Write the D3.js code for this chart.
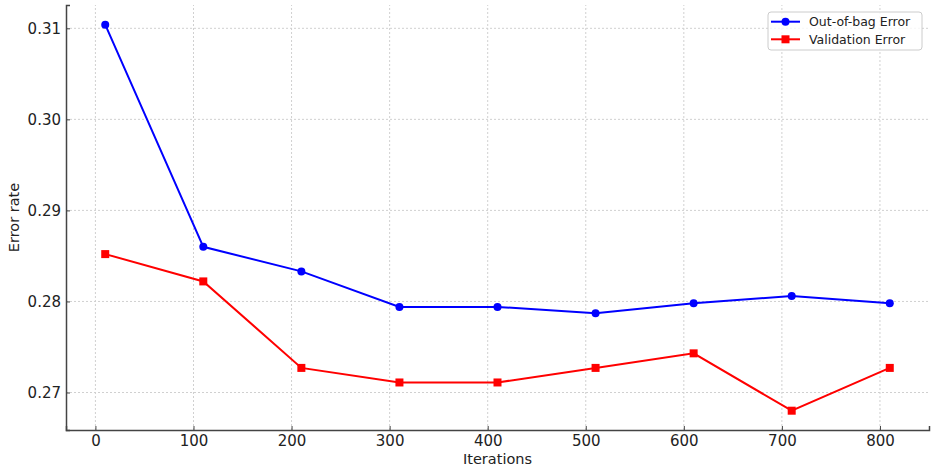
<!DOCTYPE html>
<html>
<head>
<meta charset="utf-8">
<script src="https://cdn.jsdelivr.net/npm/d3@7"></script>
<style>
  body { margin: 0; background: #fff; }
  svg { display: block; font-family: "DejaVu Sans", sans-serif; }
</style>
</head>
<body>
<svg id="chart" width="935" height="470"></svg>
<script>
// chart data
const iterations = [10, 110, 210, 310, 410, 510, 610, 710, 810];
const oobError = [0.3104, 0.2860, 0.2833, 0.2794, 0.2794, 0.2787, 0.2798, 0.2806, 0.2798];
const validationError = [0.2852, 0.2822, 0.2727, 0.2711, 0.2711, 0.2727, 0.2743, 0.2680, 0.2727];
const xTicks = [0, 100, 200, 300, 400, 500, 600, 700, 800];
const yTicks = [0.27, 0.28, 0.29, 0.30, 0.31];
const seriesNames = ['Out-of-bag Error', 'Validation Error'];

const svg = d3.select('#chart');
const margin = { left: 66, right: 6, top: 5, bottom: 40 };
const width = 935, height = 470;

const x = d3.scaleLinear().domain([-30, 850]).range([margin.left, width - margin.right]);
const y = d3.scaleLinear().domain([0.26588, 0.31256]).range([height - margin.bottom, margin.top]);

// grid
svg.append('g').selectAll('line').data(xTicks).enter().append('line')
    .attr('x1', d => x(d)).attr('x2', d => x(d))
    .attr('y1', y.range()[0]).attr('y2', y.range()[1])
    .attr('stroke', '#d0d0d0').attr('stroke-width', 1).attr('stroke-dasharray', '2,2');
svg.append('g').selectAll('line').data(yTicks).enter().append('line')
    .attr('y1', d => y(d)).attr('y2', d => y(d))
    .attr('x1', x.range()[0]).attr('x2', x.range()[1])
    .attr('stroke', '#d0d0d0').attr('stroke-width', 1).attr('stroke-dasharray', '2,2');

// axes with inward ticks
const xAxis = svg.append('g')
    .attr('transform', `translate(0,${height - margin.bottom})`)
    .call(d3.axisBottom(x).tickValues(xTicks).tickSize(-4).tickPadding(5).tickFormat(d3.format('d')));
const yAxis = svg.append('g')
    .attr('transform', `translate(${margin.left},0)`)
    .call(d3.axisLeft(y).tickValues(yTicks).tickSize(-4).tickPadding(5).tickFormat(d3.format('.2f')));

[xAxis, yAxis].forEach(ax => {
    ax.select('.domain').attr('stroke', '#444').attr('stroke-width', 1.5);
    ax.selectAll('.tick line').attr('stroke', '#444');
    ax.selectAll('.tick text').attr('fill', '#222').style('font-size', '15px')
        .style('font-family', '"DejaVu Sans", sans-serif');
});

svg.append('text')
    .attr('x', (x.range()[0] + x.range()[1]) / 2).attr('y', 464)
    .attr('text-anchor', 'middle').attr('fill', '#222').style('font-size', '14.5px')
    .text('Iterations');
svg.append('text')
    .attr('transform', `translate(19,${(y.range()[0] + y.range()[1]) / 2}) rotate(-90)`)
    .attr('text-anchor', 'middle').attr('fill', '#222').style('font-size', '14.5px')
    .text('Error rate');

// lines
const line = d3.line().x(d => x(d[0])).y(d => y(d[1]));
const oobPts = iterations.map((it, i) => [it, oobError[i]]);
const valPts = iterations.map((it, i) => [it, validationError[i]]);

svg.append('path').datum(oobPts).attr('d', line)
    .attr('fill', 'none').attr('stroke', 'blue').attr('stroke-width', 2);
svg.append('g').selectAll('circle').data(oobPts).enter().append('circle')
    .attr('cx', d => x(d[0])).attr('cy', d => y(d[1])).attr('r', 4).attr('fill', 'blue');

svg.append('path').datum(valPts).attr('d', line)
    .attr('fill', 'none').attr('stroke', 'red').attr('stroke-width', 2);
svg.append('g').selectAll('rect').data(valPts).enter().append('rect')
    .attr('x', d => x(d[0]) - 4).attr('y', d => y(d[1]) - 4)
    .attr('width', 8).attr('height', 8).attr('fill', 'red');

// legend
const legend = svg.append('g');
legend.append('rect')
    .attr('x', 768).attr('y', 12).attr('width', 154).attr('height', 38).attr('rx', 3)
    .attr('fill', 'white').attr('fill-opacity', 0.8).attr('stroke', '#ccc');
const colors = ['blue', 'red'];
seriesNames.forEach((name, i) => {
    const cy = 21.7 + i * 17.6;
    legend.append('line').attr('x1', 771).attr('x2', 800).attr('y1', cy).attr('y2', cy)
        .attr('stroke', colors[i]).attr('stroke-width', 2);
    if (i === 0) {
        legend.append('circle').attr('cx', 785.5).attr('cy', cy).attr('r', 4).attr('fill', colors[i]);
    } else {
        legend.append('rect').attr('x', 781.5).attr('y', cy - 4).attr('width', 8).attr('height', 8).attr('fill', colors[i]);
    }
    legend.append('text').attr('x', 809).attr('y', cy + 4.5)
        .attr('fill', '#222').style('font-size', '12.5px').text(name);
});
</script>
</body>
</html>
